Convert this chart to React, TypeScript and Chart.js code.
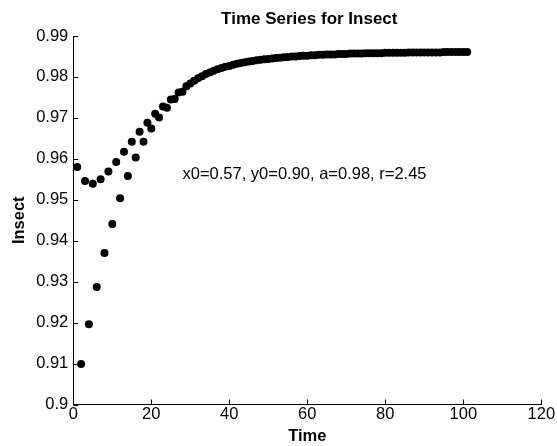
import React, { useEffect, useRef } from "react";
import { Chart, registerables } from "chart.js";

Chart.register(...registerables);

const timeSteps = [
  1, 2, 3, 4, 5, 6, 7, 8, 9, 10, 11, 12, 13, 14, 15, 16, 17, 18, 19, 20,
  21, 22, 23, 24, 25, 26, 27, 28, 29, 30, 31, 32, 33, 34, 35, 36, 37, 38, 39, 40,
  41, 42, 43, 44, 45, 46, 47, 48, 49, 50, 51, 52, 53, 54, 55, 56, 57, 58, 59, 60,
  61, 62, 63, 64, 65, 66, 67, 68, 69, 70, 71, 72, 73, 74, 75, 76, 77, 78, 79, 80,
  81, 82, 83, 84, 85, 86, 87, 88, 89, 90, 91, 92, 93, 94, 95, 96, 97, 98, 99, 100, 101,
];

const insectValues = [
  0.958, 0.9099, 0.9546, 0.9196, 0.9539, 0.9287, 0.955, 0.937, 0.9569, 0.9441,
  0.9592, 0.9504, 0.9617, 0.9558, 0.9642, 0.9603, 0.9666, 0.9642, 0.9688, 0.9674,
  0.971, 0.9701, 0.9728, 0.9725, 0.9745, 0.9746, 0.9762, 0.9764, 0.9777, 0.9784,
  0.9791, 0.9797, 0.9802, 0.9807, 0.9811, 0.9815, 0.9819, 0.9822, 0.9825, 0.9827,
  0.983, 0.9832, 0.9834, 0.9836, 0.9838, 0.9839, 0.9841, 0.9842, 0.9843, 0.9844,
  0.9845, 0.9846, 0.9847, 0.9848, 0.9849, 0.985, 0.985, 0.9851, 0.9852, 0.9852,
  0.9853, 0.9853, 0.9854, 0.9854, 0.9855, 0.9855, 0.9855, 0.9856, 0.9856, 0.9856,
  0.9857, 0.9857, 0.9857, 0.9857, 0.9858, 0.9858, 0.9858, 0.9858, 0.9858, 0.9859,
  0.9859, 0.9859, 0.9859, 0.9859, 0.9859, 0.986, 0.986, 0.986, 0.986, 0.986,
  0.986, 0.986, 0.986, 0.986, 0.9861, 0.9861, 0.9861, 0.9861, 0.9861, 0.9861, 0.9861,
];

const xTicks = [0, 20, 40, 60, 80, 100, 120];
const yTicks = [0.9, 0.91, 0.92, 0.93, 0.94, 0.95, 0.96, 0.97, 0.98, 0.99];
const yTickLabels = ["0.9", "0.91", "0.92", "0.93", "0.94", "0.95", "0.96", "0.97", "0.98", "0.99"];

const chartTitle = "Time Series for Insect";
const xTitle = "Time";
const yTitle = "Insect";
const annotationText = "x0=0.57, y0=0.90, a=0.98, r=2.45";
const annotationX = 28;
const annotationY = 0.9562;

const FONT = "'Liberation Sans', Arial, Helvetica, sans-serif";

export default function App() {
  const canvasRef = useRef<HTMLCanvasElement | null>(null);

  useEffect(() => {
    const canvas = canvasRef.current;
    if (!canvas) return;

    const extras = {
      id: "matlabExtras",
      afterDraw(chart: any) {
        const ctx = chart.ctx;
        const area = chart.chartArea;
        const xs = chart.scales.x;
        const ys = chart.scales.y;
        ctx.save();
        // inward tick marks
        ctx.strokeStyle = "#000";
        ctx.lineWidth = 1;
        ctx.beginPath();
        xTicks.forEach((v) => {
          const px = Math.round(xs.getPixelForValue(v)) + 0.5;
          ctx.moveTo(px, area.bottom);
          ctx.lineTo(px, area.bottom - 5);
        });
        yTicks.forEach((v) => {
          const py = Math.round(ys.getPixelForValue(v)) + 0.5;
          ctx.moveTo(area.left, py);
          ctx.lineTo(area.left + 5, py);
        });
        ctx.stroke();
        // title
        ctx.fillStyle = "#000";
        ctx.font = `bold 17px ${FONT}`;
        ctx.textAlign = "center";
        ctx.textBaseline = "middle";
        ctx.fillText(chartTitle, (area.left + area.right) / 2 + 2, 19);
        // annotation
        ctx.font = `16.5px ${FONT}`;
        ctx.textAlign = "left";
        ctx.textBaseline = "middle";
        ctx.fillText(annotationText, xs.getPixelForValue(annotationX), ys.getPixelForValue(annotationY));
        ctx.restore();
      },
    };

    const chart = new Chart(canvas, {
      type: "scatter",
      data: {
        datasets: [
          {
            data: timeSteps.map((t, i) => ({ x: t, y: insectValues[i] })),
            pointRadius: 4,
            pointHoverRadius: 4,
            pointBackgroundColor: "#000",
            pointBorderColor: "#000",
            pointBorderWidth: 0,
            showLine: false,
          },
        ],
      },
      options: {
        responsive: false,
        animation: false,
        devicePixelRatio: 1,
        layout: { padding: { left: 0, right: 15.7, top: 36, bottom: 0 } },
        plugins: {
          legend: { display: false },
          tooltip: { enabled: false },
          title: { display: false },
        },
        scales: {
          x: {
            type: "linear",
            min: 0,
            max: 120,
            afterBuildTicks: (scale: any) => {
              scale.ticks = xTicks.map((v) => ({ value: v }));
            },
            afterFit: (scale: any) => {
              scale.height = 41.5;
            },
            grid: { display: false, drawTicks: false },
            border: { display: true, color: "#000", width: 1 },
            ticks: {
              color: "#000",
              font: { family: FONT, size: 16.5 },
              padding: 0,
              maxRotation: 0,
              autoSkip: false,
            },
            title: {
              display: true,
              text: xTitle,
              color: "#000",
              font: { family: FONT, size: 16.5, weight: "bold" },
              padding: { top: 0, bottom: 0 },
            },
          },
          y: {
            type: "linear",
            min: 0.9,
            max: 0.99,
            afterBuildTicks: (scale: any) => {
              scale.ticks = yTicks.map((v) => ({ value: v }));
            },
            afterFit: (scale: any) => {
              scale.width = 73.3;
            },
            grid: { display: false, drawTicks: false },
            border: { display: true, color: "#000", width: 1 },
            ticks: {
              color: "#000",
              font: { family: FONT, size: 16.5 },
              padding: 5,
              autoSkip: false,
              callback: (_v: any, index: number) => yTickLabels[index],
            },
            title: {
              display: true,
              text: yTitle,
              color: "#000",
              font: { family: FONT, size: 16.5, weight: "bold" },
              padding: { top: 10, bottom: 0 },
            },
          },
        },
      },
      plugins: [extras],
    });

    return () => chart.destroy();
  }, []);

  return (
    <div style={{ position: "absolute", left: 0, top: 0, width: 557, height: 446, background: "#fff" }}>
      <canvas ref={canvasRef} width={557} height={446} style={{ display: "block", width: 557, height: 446 }} />
    </div>
  );
}
